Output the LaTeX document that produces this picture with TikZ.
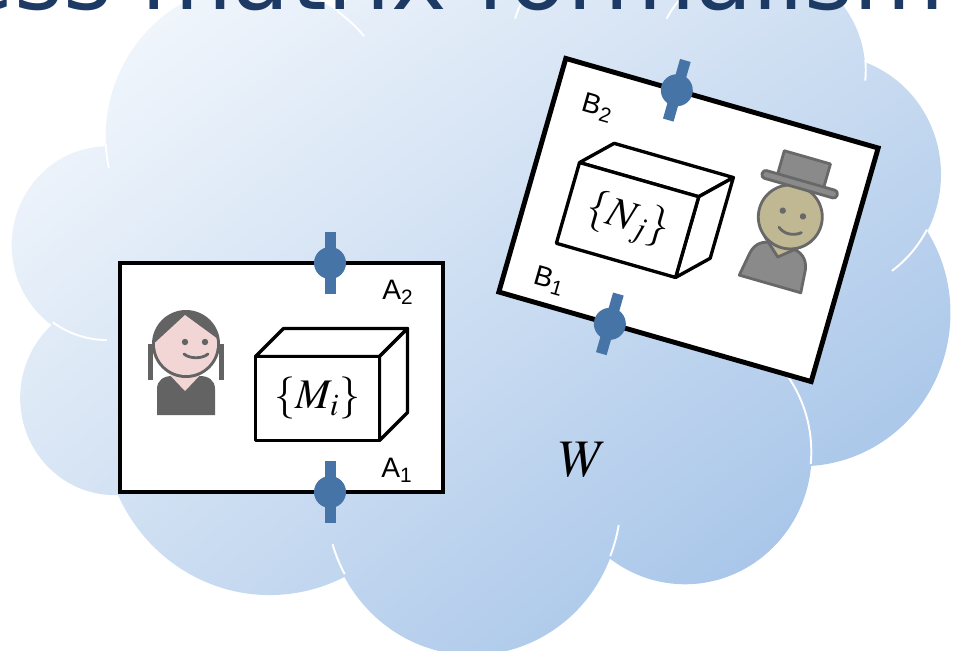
\documentclass[tikz,border=0pt]{standalone}
\usepackage{mathptmx}
\usepackage{fontspec}
\setmainfont{Liberation Sans}
\newfontfamily\titlefont{DejaVu Sans}
\usetikzlibrary{shadings}

\definecolor{titleblue}{HTML}{1C3A64}
\definecolor{portblue}{HTML}{4674A6}
\definecolor{cloudlight}{HTML}{FDFEFF}
\definecolor{cloudmid}{HTML}{CFDFF2}
\definecolor{clouddark}{HTML}{96BAE5}
\definecolor{hairgray}{HTML}{636363}
\definecolor{skinpink}{HTML}{F2D6D6}
\definecolor{skinkhaki}{HTML}{C0B893}
\definecolor{coatgray}{HTML}{8A8A8A}
\definecolor{edgegray}{HTML}{686868}

\tikzstyle{lab} = [rectangle, draw=black, line width=2.8pt, fill=white]
\tikzstyle{portlabel} = [inner sep=0pt, font=\fontsize{16}{19}\selectfont]
\tikzstyle{opset} = [inner sep=0pt, font=\fontsize{24}{28}\selectfont]
\tikzstyle{crease} = [white, line width=1.1pt]
\tikzstyle{cratedge} = [draw=black, fill=white, line width=1.9pt, line join=round]
\tikzstyle{figline} = [draw=edgegray, line width=1.6pt, line join=round]
\tikzstyle{cloudframe} = [shift={(480,295.5)}, rotate=-4.8, xscale=21.78, yscale=16.52]

% cloud outline, one arc per lobe: x radius/y radius/start/sweep
\def\cloudoutline{}
\foreach \rx/\ry/\angA/\angB in {6.753/9.190/-190.4875/123.7805, 5.333/7.267/-144.1024/89.9452,
    4.365/5.945/-145.8079/99.7230, 4.857/6.595/-130.9861/117.2417, 5.333/7.273/-78.7089/109.0269,
    6.775/9.220/-46.2673/130.2690, 5.785/7.867/0.6250/114.0333, 6.752/9.215/22.4516/115.1726,
    7.720/10.543/66.2426/75.7110, 4.360/5.918/-274.9421/146.7356, 4.345/5.945/-246.8285/152.5186}{%
  \pgfmathsetmacro\tA{atan2(\rx*sin(\angA),\ry*cos(\angA))}%
  \pgfmathsetmacro\tB{atan2(\rx*sin(\angA+\angB),\ry*cos(\angA+\angB))}%
  \pgfmathsetmacro\tB{\tA+mod(\tB-(\tA)+720,360)}%
  \xdef\cloudoutline{\cloudoutline arc[x radius=\rx, y radius=\ry, start angle=\tA, end angle=\tB]}%
}
% inner creases where the lobes overlap
\def\cloudcreases{}
\foreach \px/\py/\rx/\ry/\angA/\angB in {-16.907/4.577/4.345/5.945/86.7420/26.4295,
    -14.672/13.299/4.360/5.918/73.6105/11.4475, -5.122/17.490/6.752/9.215/137.6242/14.0811,
    7.227/13.151/6.752/9.215/6.4533/15.9984, 12.529/1.354/5.785/7.867/-70.2924/70.9174,
    20.198/-6.246/5.333/7.273/30.3180/27.7515, 16.724/-16.174/4.857/6.595/-13.7443/14.8589,
    7.478/-17.648/4.857/6.595/-149.1815/18.1954, 0.541/-16.880/4.365/5.945/-163.4943/17.6864,
    -7.600/-16.408/6.753/9.190/-66.7070/12.3194, -17.473/-5.811/6.753/9.190/157.6544/11.8582}{%
  \pgfmathsetmacro\tA{atan2(\rx*sin(\angA),\ry*cos(\angA))}%
  \pgfmathsetmacro\tB{atan2(\rx*sin(\angA+\angB),\ry*cos(\angA+\angB))}%
  \pgfmathsetmacro\tB{\tA+mod(\tB-(\tA)+720,360)}%
  \xdef\cloudcreases{\cloudcreases (\px,\py) arc[x radius=\rx, y radius=\ry, start angle=\tA, end angle=\tB]}%
}

\tikzset{
  port/.pic={
    \fill[portblue] (-5.5,-31) rectangle (5.5,31);
    \fill[portblue] (0,0) circle (16);
  },
  crate/.pic={
    \draw[cratedge] (-62,-42) -- (-34,-70) -- (90,-70) -- (62,-42) -- cycle;
    \draw[cratedge] (62,-42) -- (90,-70) -- (90,14) -- (62,42) -- cycle;
    \draw[cratedge] (-62,-42) rectangle (62,42);
  },
  alice/.pic={
    \fill[hairgray] (-29,71) -- (-29,45) .. controls (-29,36) and (-22,32) .. (-14,32) -- (14,32) .. controls (22,32) and (29,36) .. (29,45) -- (29,71) -- cycle;
    \fill[skinpink] (-20,27) -- (-1,47) -- (18,27) -- cycle;
    \fill[hairgray] (0,0) circle (34);
    \fill[hairgray] (-38,0) rectangle (-33,36);
    \fill[hairgray] (33,0) rectangle (38,36);
    \begin{scope}
      \clip (-40,7) -- (-1,-29) -- (40,1) -- (40,40) -- (-40,40) -- cycle;
      \fill[skinpink] (0,0) circle (31);
    \end{scope}
    \fill[hairgray] (-1,-2) circle (3.2) (19,-2) circle (3.2);
    \draw[hairgray, line width=1.6pt, line cap=round] (-2,10) .. controls (4,15) and (16,15) .. (22,10);
  },
  bob/.pic={
    \filldraw[figline, fill=coatgray] (-33,70) -- (-29,46) .. controls (-27,35) and (-19,30) .. (-10,30) -- (10,30) .. controls (19,30) and (27,35) .. (29,46) -- (31,70) -- cycle;
    \filldraw[figline, fill=skinkhaki] (-19,26) -- (-1,42) -- (18,26) -- cycle;
    \filldraw[figline, fill=skinkhaki] (0,0) circle (32);
    \fill[edgegray] (-9,-4) circle (3.2) (12,-4) circle (3.2);
    \draw[edgegray, line width=1.6pt, line cap=round] (-8,13) .. controls (-2,18) and (8,18) .. (15,12);
    \filldraw[figline, fill=coatgray] (-24,-62) rectangle (24,-36);
    \filldraw[figline, fill=coatgray, rounded corners=2pt] (-39,-38) rectangle (39,-30);
  }
}

\begin{document}
\begin{tikzpicture}[x=0.02cm, y=-0.02cm]
\useasboundingbox (0,0) rectangle (959,650);

% the cloud
\begin{scope}
  \clip[cloudframe] (-17.7,-7.23) \cloudoutline -- cycle;
  \shade[upper left=cloudlight, upper right=cloudmid, lower left=cloudmid, lower right=clouddark] (0,-70) rectangle (959,660);
\end{scope}
\draw[cloudframe, crease] \cloudcreases;

\node (heading) [anchor=base east, inner sep=0pt, text=titleblue, font=\titlefont\fontsize{53.3}{60}\selectfont] at (945,9) {ess matrix formalism};

% Alice's lab
\node (labA) [lab, minimum width=6.46cm, minimum height=4.58cm] at (281.5,377.5) {};
\pic at (330,263) {port};
\pic at (330,492) {port};
\pic at (317.5,398.5) {crate};
\node (mi) [opset] at (317.5,398.5) {$\{M_i\}$};
\node (a2) [portlabel] at (398,292) {A\textsubscript{2}};
\node (a1) [portlabel] at (397,470) {A\textsubscript{1}};
\pic at (186,344) {alice};

% Bob's lab, tilted
\begin{scope}[shift={(688.5,220)}, rotate=-16, transform shape]
  \node (labB) [lab, minimum width=6.5cm, minimum height=4.86cm] at (0,0) {};
  \pic at (-47,-121.5) {port};
  \pic at (-47,121.5) {port};
  \pic at (-58.6,16.8) {crate};
  \node (nj) [opset] at (-58.6,16.8) {$\{N_j\}$};
  \node (b2) [portlabel] at (-118,-83) {B\textsubscript{2}};
  \node (b1) [portlabel] at (-117,97) {B\textsubscript{1}};
  \pic at (97,-31) {bob};
\end{scope}

\node (w) [font=\fontsize{30}{36}\selectfont] at (583,460) {$W$};
\end{tikzpicture}
\end{document}
